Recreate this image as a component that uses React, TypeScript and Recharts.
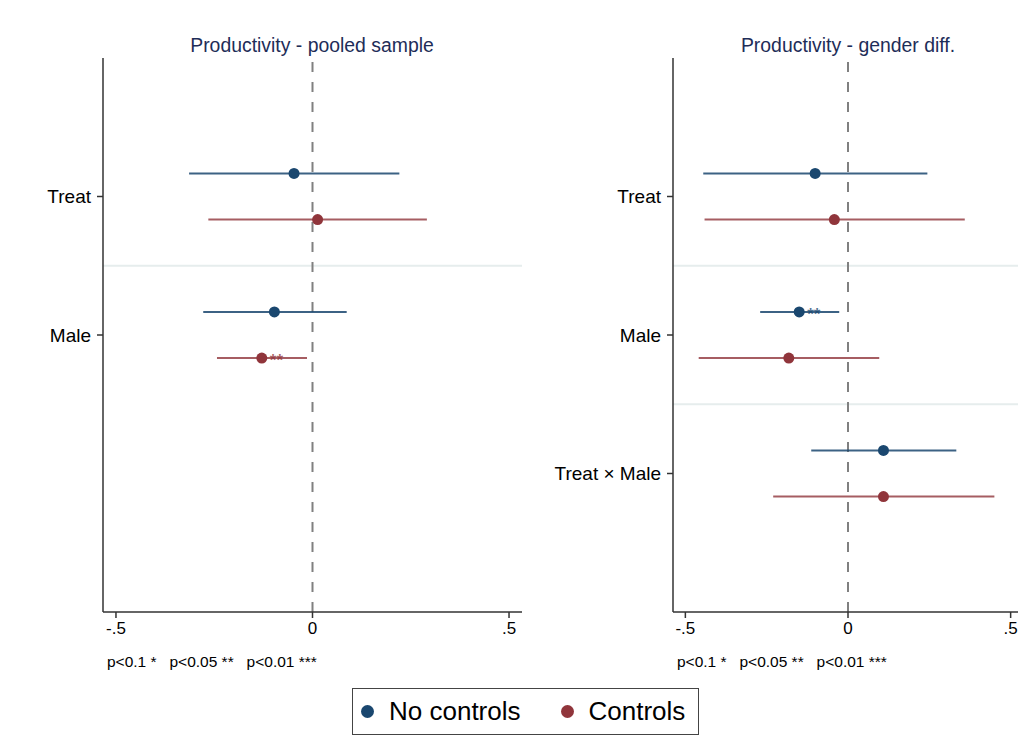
import React from "react";
import { ScatterChart, Scatter, XAxis, YAxis, ErrorBar, ReferenceLine } from "recharts";

const leftTerms = ["Treat", "Male"];
const leftNoCtrlCoef = [-0.047, -0.097];
const leftNoCtrlLo = [-0.314, -0.278];
const leftNoCtrlHi = [0.221, 0.087];
const leftNoCtrlStars = ["", ""];
const leftCtrlCoef = [0.013, -0.129];
const leftCtrlLo = [-0.265, -0.243];
const leftCtrlHi = [0.291, -0.014];
const leftCtrlStars = ["", "**"];

const rightTerms = ["Treat", "Male", "Treat × Male"];
const rightNoCtrlCoef = [-0.101, -0.15, 0.109];
const rightNoCtrlLo = [-0.445, -0.27, -0.113];
const rightNoCtrlHi = [0.244, -0.027, 0.333];
const rightNoCtrlStars = ["", "**", ""];
const rightCtrlCoef = [-0.042, -0.182, 0.109];
const rightCtrlLo = [-0.441, -0.459, -0.23];
const rightCtrlHi = [0.359, 0.096, 0.45];
const rightCtrlStars = ["", "", ""];

const xTicks = [-0.5, 0, 0.5];
const footnote = "p<0.1 *   p<0.05 **   p<0.01 ***";

const BLUE = "#1a476f";
const RED = "#90353b";
const FONT = "'Liberation Sans', Arial, sans-serif";

if (typeof document !== "undefined") {
  document.body.style.margin = "0";
  document.body.style.overflow = "hidden";
}

function rows(coef: number[], lo: number[], hi: number[], stars: string[], shift: number) {
  return coef.map((c, i) => ({
    x: c,
    y: i + 1 + shift,
    err: [c - lo[i], hi[i] - c],
    stars: stars[i],
  }));
}

function dotShape(color: string) {
  return (props: any) => {
    const { cx, cy, payload } = props;
    return (
      <g>
        <circle cx={cx} cy={cy} r={5.5} fill={color} />
        {payload.stars ? (
          <text
            x={cx + 8}
            y={cy + 8}
            fontSize={17}
            fontWeight="bold"
            fill={color}
            fillOpacity={0.75}
            fontFamily={FONT}
          >
            {payload.stars}
          </text>
        ) : null}
      </g>
    );
  };
}

const fmtX = (v: number) => (v === 0 ? "0" : String(v).replace("0.", "."));

type PanelProps = {
  terms: string[];
  blue: any[];
  red: any[];
  domain: [number, number];
  width: number;
  yAxisWidth: number;
  separators: number[];
};

function Panel({ terms, blue, red, domain, width, yAxisWidth, separators }: PanelProps) {
  const yTicks = terms.map((_, i) => i + 1);
  return (
    <ScatterChart width={width} height={680} margin={{ top: 58, right: 10, bottom: 38, left: 0 }}>
      <XAxis
        type="number"
        dataKey="x"
        domain={domain}
        ticks={xTicks}
        tickFormatter={fmtX}
        allowDataOverflow
        axisLine={{ stroke: "#333", strokeWidth: 1.5 }}
        tickLine={{ stroke: "#333", strokeWidth: 1.5 }}
        tickSize={6}
        tickMargin={4}
        height={30}
        tick={{ fontSize: 17, fill: "#000", fontFamily: FONT }}
      />
      <YAxis
        type="number"
        dataKey="y"
        domain={[0, 4]}
        reversed
        ticks={yTicks}
        tickFormatter={(v: number) => terms[v - 1] ?? ""}
        allowDataOverflow
        width={yAxisWidth}
        axisLine={{ stroke: "#333", strokeWidth: 1.5 }}
        tickLine={{ stroke: "#333", strokeWidth: 1.5 }}
        tickSize={6}
        tickMargin={6}
        tick={{ fontSize: 19, fill: "#000", fontFamily: FONT }}
      />
      {separators.map((s) => (
        <ReferenceLine key={s} y={s} stroke="#e6eded" strokeWidth={2} />
      ))}
      <ReferenceLine x={0} stroke="#808080" strokeWidth={2} strokeDasharray="10 10" />
      <Scatter data={blue} isAnimationActive={false} shape={dotShape(BLUE)}>
        <ErrorBar dataKey="err" direction="x" width={0} stroke={BLUE} strokeWidth={2} strokeOpacity={0.85} />
      </Scatter>
      <Scatter data={red} isAnimationActive={false} shape={dotShape(RED)}>
        <ErrorBar dataKey="err" direction="x" width={0} stroke={RED} strokeWidth={2} strokeOpacity={0.8} />
      </Scatter>
    </ScatterChart>
  );
}

const titleStyle: React.CSSProperties = {
  position: "absolute",
  top: 33,
  width: 400,
  textAlign: "center",
  fontSize: 19.4,
  lineHeight: "24px",
  color: "#1e2d58",
  fontFamily: FONT,
};

const noteStyle: React.CSSProperties = {
  position: "absolute",
  top: 653,
  fontSize: 15.5,
  lineHeight: "18px",
  whiteSpace: "pre",
  fontFamily: FONT,
  color: "#000",
};

const dot = (color: string, ml: number): React.CSSProperties => ({
  width: 13,
  height: 13,
  borderRadius: 7,
  background: color,
  marginLeft: ml,
  flex: "none",
});

export default function App() {
  const leftBlue = rows(leftNoCtrlCoef, leftNoCtrlLo, leftNoCtrlHi, leftNoCtrlStars, -1 / 6);
  const leftRed = rows(leftCtrlCoef, leftCtrlLo, leftCtrlHi, leftCtrlStars, 1 / 6);
  const rightBlue = rows(rightNoCtrlCoef, rightNoCtrlLo, rightNoCtrlHi, rightNoCtrlStars, -1 / 6);
  const rightRed = rows(rightCtrlCoef, rightCtrlLo, rightCtrlHi, rightCtrlStars, 1 / 6);

  return (
    <div
      style={{
        position: "relative",
        width: 1018,
        height: 755,
        overflow: "hidden",
        background: "#fff",
        fontFamily: FONT,
      }}
    >
      <div style={{ position: "absolute", left: 8, top: 0 }}>
        <Panel
          terms={leftTerms}
          blue={leftBlue}
          red={leftRed}
          domain={[-0.533, 0.533]}
          width={524}
          yAxisWidth={95}
          separators={[1.5]}
        />
      </div>
      <div style={{ position: "absolute", left: 548, top: 0 }}>
        <Panel
          terms={rightTerms}
          blue={rightBlue}
          red={rightRed}
          domain={[-0.538, 0.538]}
          width={485}
          yAxisWidth={125}
          separators={[1.5, 2.5]}
        />
      </div>
      <div style={{ ...titleStyle, left: 312 - 200 }}>Productivity - pooled sample</div>
      <div style={{ ...titleStyle, left: 848 - 200 }}>Productivity - gender diff.</div>
      <div style={{ ...noteStyle, left: 107 }}>{footnote}</div>
      <div style={{ ...noteStyle, left: 677 }}>{footnote}</div>
      <div
        style={{
          position: "absolute",
          left: 352,
          top: 688,
          width: 345,
          height: 45,
          border: "1.5px solid #444",
          display: "flex",
          alignItems: "center",
          fontSize: 26,
          color: "#000",
        }}
      >
        <span style={dot(BLUE, 8)} />
        <span style={{ marginLeft: 15 }}>No controls</span>
        <span style={dot(RED, 40)} />
        <span style={{ marginLeft: 15 }}>Controls</span>
      </div>
    </div>
  );
}
